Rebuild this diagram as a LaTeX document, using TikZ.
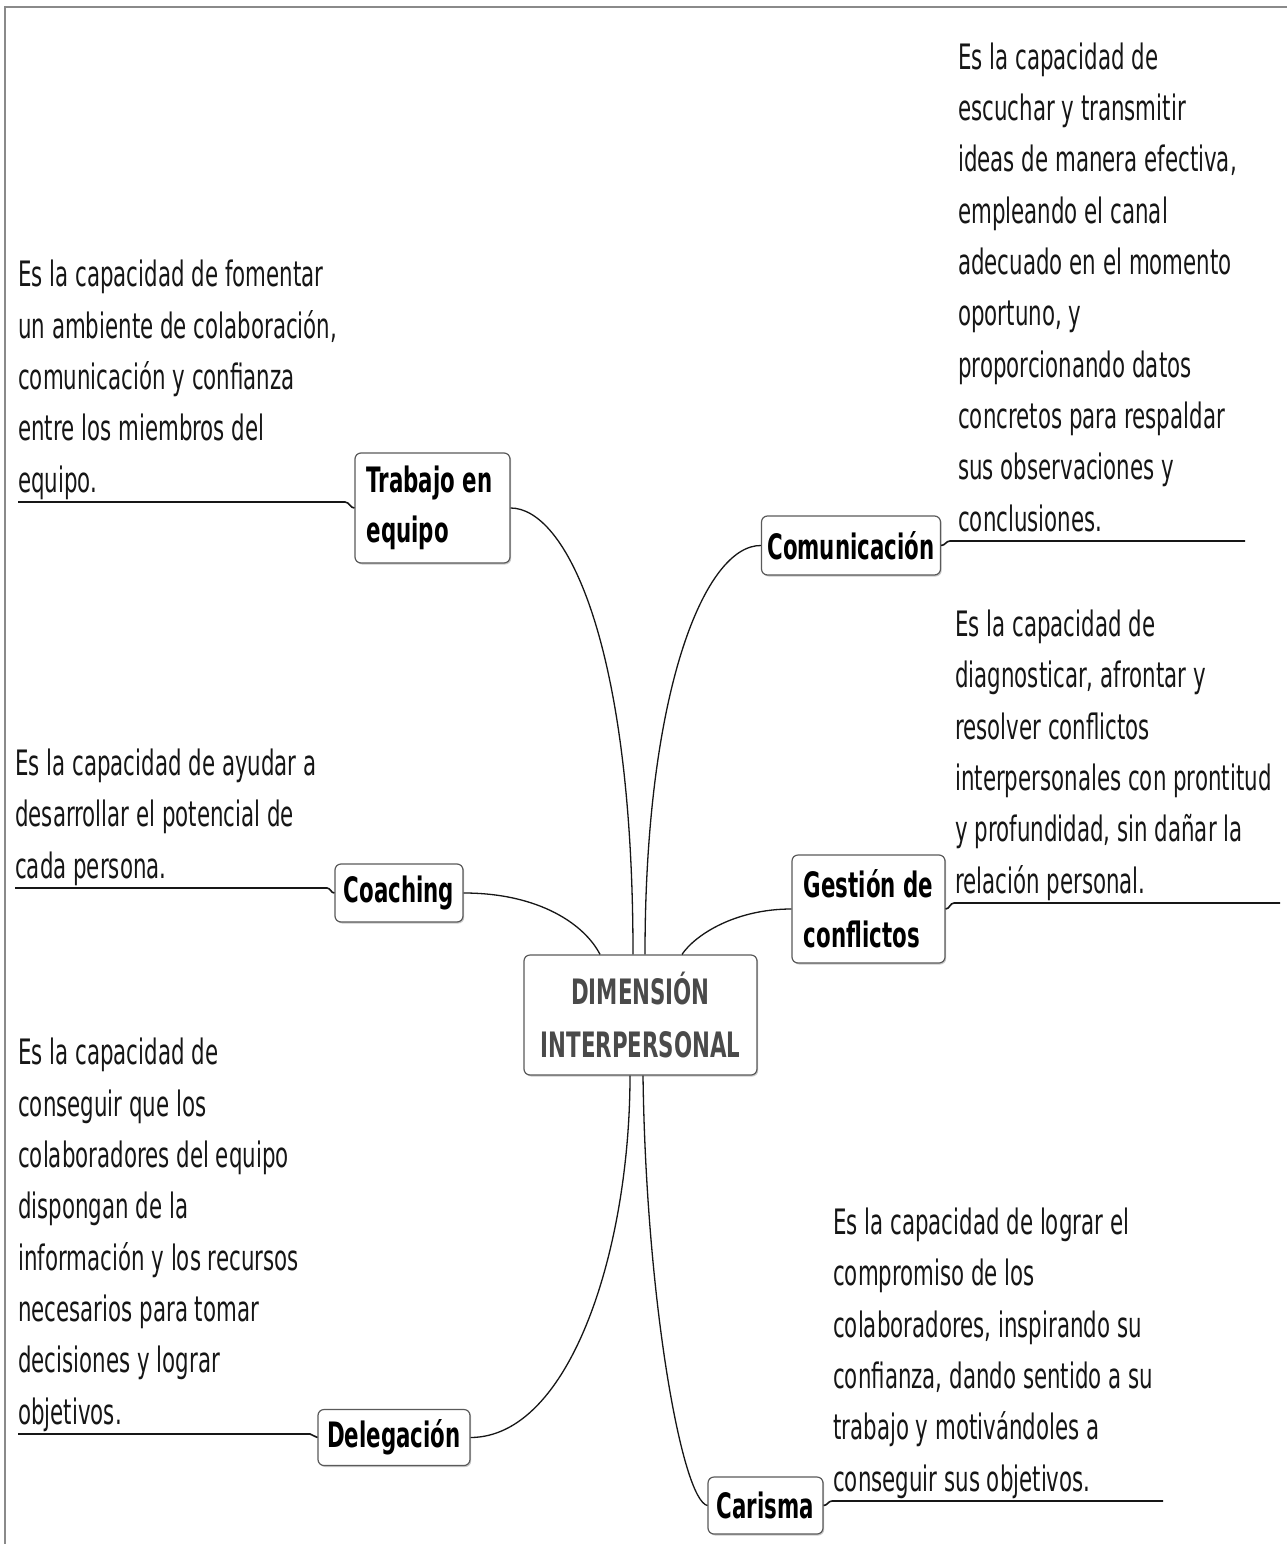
\documentclass[tikz,border=0pt]{standalone}
\usepackage{fontspec}
\setmainfont{DejaVu Sans}[FakeStretch=0.61]
\usetikzlibrary{shadows}
\definecolor{frame}{HTML}{8A8A8A}
\definecolor{boxline}{HTML}{5A5A5A}
\definecolor{ink}{HTML}{161616}
\definecolor{centerink}{HTML}{4A4A4A}
\tikzset{
  topic/.style={draw=boxline, line width=1.2pt, rounded corners=6pt, fill=white,
    drop shadow={shadow xshift=1.2pt, shadow yshift=-1.5pt, fill=black!35, opacity=0.6},
    inner sep=0pt, font=\fontsize{35}{50}\selectfont\bfseries, text=black},
  central/.style={topic, text=centerink, font=\fontsize{35}{53}\selectfont\bfseries, align=center},
  desc/.style={inner sep=0pt, anchor=base west, text=ink, font=\fontsize{35}{51.3}\selectfont},
  branch/.style={draw=ink, line width=1.3pt},
  uline/.style={draw=ink, line width=1.6pt}
}
\newcommand{\desctext}[1]{\parbox[b]{520pt}{\raggedright #1}}
\begin{document}
\begin{tikzpicture}[x=1pt, y=-1pt]
\useasboundingbox[fill=white] (0,0) rectangle (1287,1544);
% frame
\draw[frame, line width=2pt] (5,1544) -- (5,7) -- (1287,7);

% topic boxes
\node[central, minimum width=233pt, minimum height=120pt] (cen) at (640.5,1015) {DIMENSIÓN\\INTERPERSONAL};
\node[topic, align=left, minimum width=155pt, minimum height=110pt] (trab) at (432.5,508) {\hspace*{-6pt}Trabajo en\\\hspace*{-6pt}equipo};
\node[topic, minimum width=179pt, minimum height=59pt] (com) at (851,545.5) {Comunicación};
\node[topic, minimum width=128pt, minimum height=58pt] (coach) at (399,893) {Coaching};
\node[topic, align=left, minimum width=153pt, minimum height=108pt] (gest) at (868.5,909) {Gestión de\\conflictos};
\node[topic, minimum width=152pt, minimum height=56pt] (dele) at (394,1437.5) {Delegación};
\node[topic, minimum width=115pt, minimum height=57pt] (car) at (765.5,1505.5) {Carisma};

% descriptions
\node[desc] (dtrab) at (18,492) {\desctext{Es la capacidad de fomentar\\un ambiente de colaboración,\\comunicación y confianza\\entre los miembros del\\equipo.}};
\node[desc] (dcom) at (958,531) {\desctext{Es la capacidad de\\escuchar y transmitir\\ideas de manera efectiva,\\empleando el canal\\adecuado en el momento\\oportuno, y\\proporcionando datos\\concretos para respaldar\\sus observaciones y\\conclusiones.}};
\node[desc] (dgest) at (955,893) {\desctext{Es la capacidad de\\diagnosticar, afrontar y\\resolver conflictos\\interpersonales con prontitud\\y profundidad, sin dañar la\\relación personal.}};
\node[desc] (dcoach) at (15,878) {\desctext{Es la capacidad de ayudar a\\desarrollar el potencial de\\cada persona.}};
\node[desc] (ddele) at (18,1424) {\desctext{Es la capacidad de\\conseguir que los\\colaboradores del equipo\\dispongan de la\\información y los recursos\\necesarios para tomar\\decisiones y lograr\\objetivos.}};
\node[desc] (dcar) at (833,1491) {\desctext{Es la capacidad de lograr el\\compromiso de los\\colaboradores, inspirando su\\confianza, dando sentido a su\\trabajo y motivándoles a\\conseguir sus objetivos.}};

% underline end points
\coordinate (utrab) at (18,502);
\coordinate (ucoach) at (15,888);
\coordinate (udele) at (18,1434);
\coordinate (ucom) at (1245,541);
\coordinate (ugest) at (1280,903);
\coordinate (ucar) at (1163,1501);

% underlines with hooks
\draw[uline] (utrab) -- (345,502) to[out=0,in=180] (trab.west);
\draw[uline] (ucoach) -- (327,888) to[out=0,in=180] (coach.west);
\draw[uline] (udele) -- (310,1434) to[out=0,in=180] (dele.west);
\draw[uline] (com.east) to[out=0,in=180] (950,541) -- (ucom);
\draw[uline] (gest.east) to[out=0,in=180] (954,903) -- (ugest);
\draw[uline] (car.east) to[out=0,in=180] (832,1501) -- (ucar);

% branches from the centre
\draw[branch] (trab.east) .. controls (565,508) and (633,640) .. (633,0 |- cen.north);
\draw[branch] (com.west) .. controls (705,545) and (645,690) .. (645,0 |- cen.north);
\draw[branch] (coach.east) .. controls (540,893) and (585,925) .. (600,0 |- cen.north);
\draw[branch] (gest.west) .. controls (735,909) and (695,935) .. (682,0 |- cen.north);
\draw[branch] (dele.east) .. controls (570,1437) and (630,1250) .. (630,0 |- cen.south);
\draw[branch] (car.west) .. controls (682,1500) and (646,1300) .. (643,0 |- cen.south);
\end{tikzpicture}
\end{document}
